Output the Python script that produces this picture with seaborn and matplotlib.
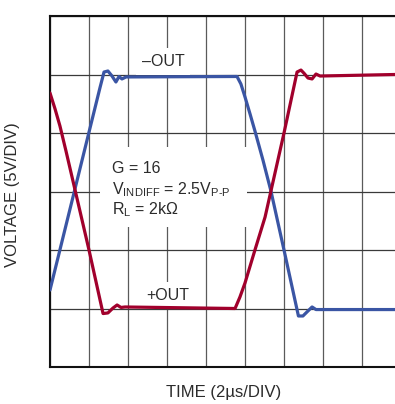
import matplotlib
matplotlib.use("Agg")
import matplotlib.pyplot as plt
import seaborn as sns
import pandas as pd
from matplotlib.patches import Rectangle

# time in us (2us/div), voltage in V (5V/div)
t_neg = [0.0, 2.56, 2.77, 2.97, 3.18, 3.38, 3.54, 3.69, 3.90, 9.59, 9.79, 10.0,
         10.26, 10.51, 10.92, 11.33, 12.0, 12.74, 12.97, 13.23, 13.44, 13.64,
         13.85, 20.0]
v_neg = [-8.42, 8.85, 10.21, 10.30, 9.87, 9.36, 9.83, 9.62, 9.79, 9.83, 9.19,
         8.08, 6.62, 5.17, 2.69, 0.04, -5.0, -10.64, -10.64, -10.21, -9.87,
         -10.09, -10.09, -10.09]

t_pos = [0.0, 0.26, 0.51, 0.82, 1.13, 2.0, 2.72, 2.97, 3.23, 3.44, 3.64, 3.85,
         9.49, 9.74, 10.0, 10.51, 11.03, 11.18, 11.33, 12.0, 12.67, 12.87, 13.03,
         13.23, 13.44, 13.64, 13.85, 17.69, 20.0]
v_pos = [8.42, 7.05, 5.60, 3.46, 1.24, -5.0, -10.43, -10.38, -9.96, -9.70, -9.91,
         -9.87, -10.0, -9.02, -7.82, -5.0, -2.18, -1.07, 0.04, 5.0, 10.21, 10.38,
         10.1, 9.7, 9.62, 10.04, 9.87, 10.0, 10.0]

W, H = 395, 404
def px(x, y):
    return x / W, 1 - y / H

sns.set_style("white")
plt.rcParams['font.family'] = ['Liberation Sans', 'DejaVu Sans']
plt.rcParams['mathtext.fontset'] = 'custom'
plt.rcParams['mathtext.rm'] = 'Liberation Sans'
txt = "#2b2b2b"

fig = plt.figure(figsize=(W / 100, H / 100), dpi=100)
ax = fig.add_axes([50 / W, 37 / H, 390 / W, 351 / H])

neg = pd.DataFrame({"t": t_neg, "v": v_neg})
pos = pd.DataFrame({"t": t_pos, "v": v_pos})
sns.lineplot(data=neg, x="t", y="v", sort=False, estimator=None, ax=ax,
             color="#3a55a4", lw=2.3, zorder=5)
sns.lineplot(data=pos, x="t", y="v", sort=False, estimator=None, ax=ax,
             color="#a1002c", lw=2.3, zorder=6)

ax.set_xlim(0, 20)
ax.set_ylim(-15, 15)
ax.set_xticks(range(0, 21, 2))
ax.set_yticks(range(-15, 16, 5))
ax.tick_params(length=0, labelbottom=False, labelleft=False)
ax.set_xlabel("")
ax.set_ylabel("")
ax.xaxis.grid(True, color="#5a5a5a", lw=0.9)
ax.yaxis.grid(True, color="#3a3a3a", lw=0.9)
ax.set_axisbelow(True)
for s in ["left", "top", "bottom"]:
    ax.spines[s].set_color("#111111")
    ax.spines[s].set_linewidth(1.5)
ax.spines["right"].set_visible(False)

# white box behind the conditions text (below the traces, above the grid)
x0, y0 = px(100, 227)
x1, y1 = px(247, 147)
ax.add_patch(Rectangle((x0, y0), x1 - x0, y1 - y0, transform=fig.transFigure,
                       facecolor="white", edgecolor="none", zorder=2))

fs = 11.5
tf = fig.transFigure
ax.text(*px(112, 173), "G = 16", fontsize=fs, color=txt, va="baseline",
        transform=tf, zorder=3)
ax.text(*px(112, 194), r"$\mathregular{V_{INDIFF}}$ = 2.5$\mathregular{V_{P\text{-}P}}$",
        fontsize=fs, color=txt, va="baseline", transform=tf, zorder=3)
ax.text(*px(112, 214), r"$\mathregular{R_{L}}$ = 2kΩ", fontsize=fs, color=txt,
        va="baseline", transform=tf, zorder=3)

box = dict(facecolor="white", edgecolor="none", pad=4)
ax.text(*px(163, 66), "–OUT", fontsize=fs, color=txt, ha="center", va="baseline",
        bbox=box, transform=tf, zorder=3)
ax.text(*px(167.5, 300), "+OUT", fontsize=fs, color=txt, ha="center", va="baseline",
        bbox=box, transform=tf, zorder=3)

fig.text(*px(13, 195), "VOLTAGE (5V/DIV)", fontsize=12, color=txt, rotation=90,
         ha="center", va="center")
fig.text(*px(224, 393), "TIME (2µs/DIV)", fontsize=12, color=txt, ha="center",
         va="center")

fig.savefig("out.png", dpi=100)
